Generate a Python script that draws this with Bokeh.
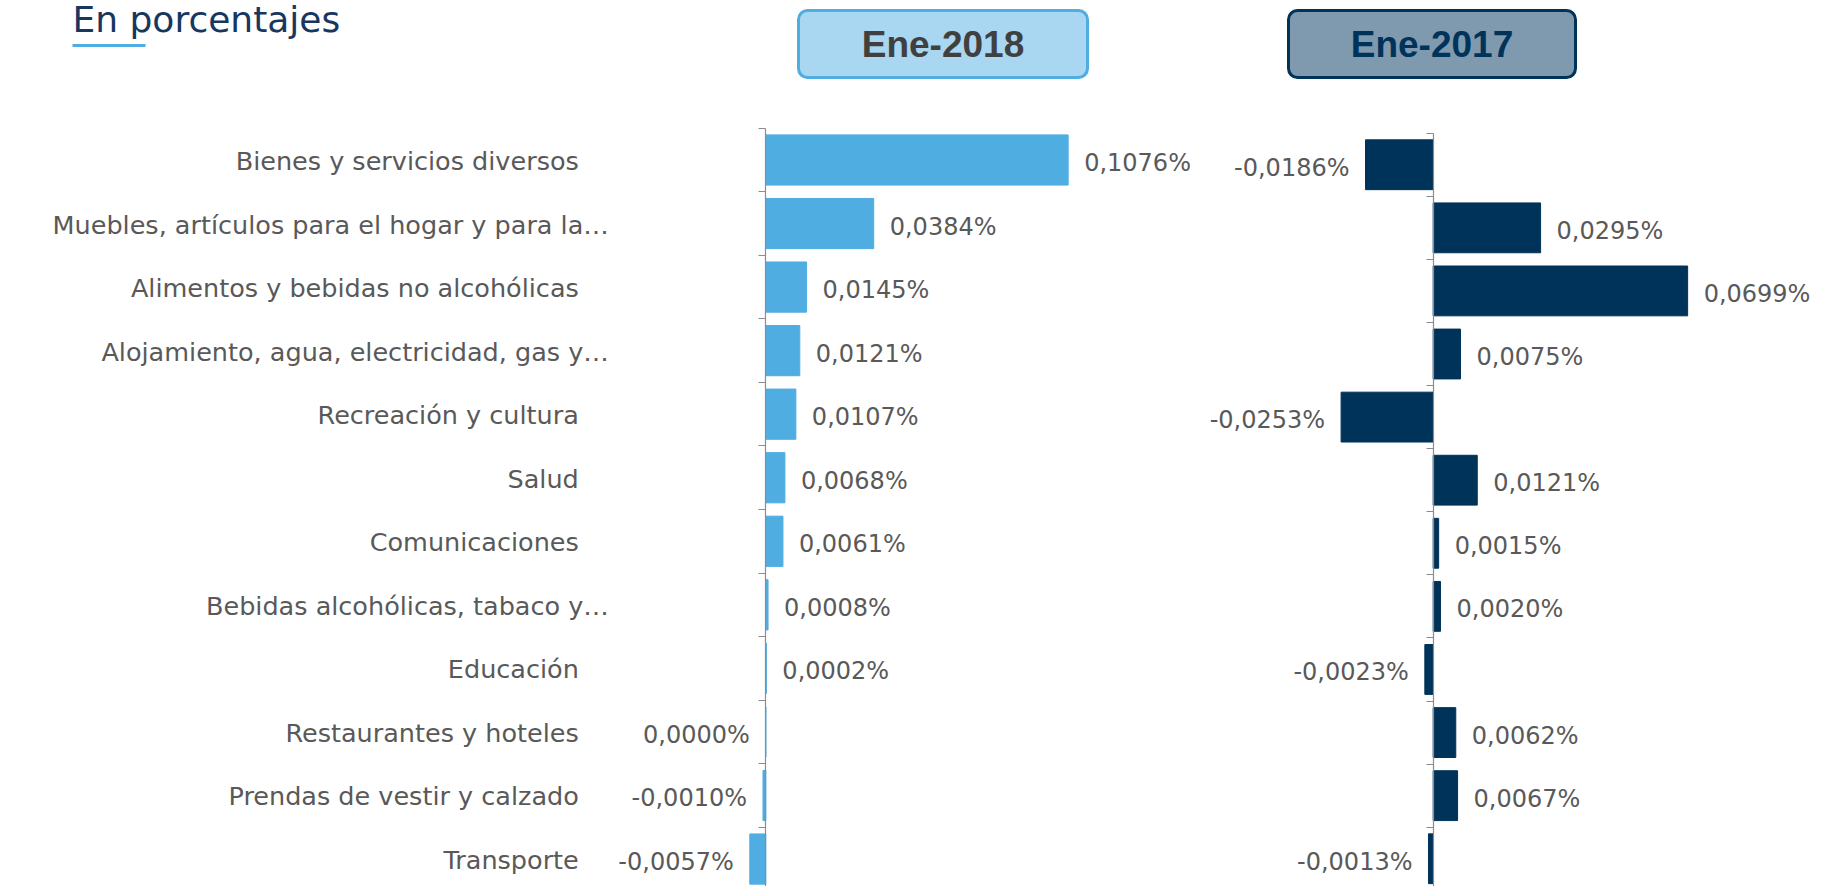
from bokeh.plotting import figure
from bokeh.models import Range1d, LinearAxis, FixedTicker, ColumnDataSource
from bokeh.core.properties import value
from bokeh.embed import file_html
from bokeh.resources import INLINE

# ---------------- data ----------------
chart_title = "En porcentajes"
series_titles = ["Ene-2018", "Ene-2017"]
categories = [
    "Bienes y servicios diversos",
    "Muebles, artículos para el hogar y para la…",
    "Alimentos y bebidas no alcohólicas",
    "Alojamiento, agua, electricidad, gas y…",
    "Recreación y cultura",
    "Salud",
    "Comunicaciones",
    "Bebidas alcohólicas, tabaco y…",
    "Educación",
    "Restaurantes y hoteles",
    "Prendas de vestir y calzado",
    "Transporte",
]
ene_2018 = [0.1076, 0.0384, 0.0145, 0.0121, 0.0107, 0.0068, 0.0061, 0.0008, 0.0002, 0.0000, -0.0010, -0.0057]
ene_2017 = [-0.0186, 0.0295, 0.0699, 0.0075, -0.0253, 0.0121, 0.0015, 0.0020, -0.0023, 0.0062, 0.0067, -0.0013]

# ---------------- style ----------------
LIGHT = "#50ADE1"
NAVY = "#003359"
AXIS = "#8C8C8C"
TXT = "#595959"
FONT = "DejaVu Sans"
W, H = 1824, 886

p = figure(width=W, height=H, output_backend="svg", toolbar_location=None,
           x_range=Range1d(-0.27235, 0.37676), y_range=Range1d(11.9323, -2.0095),
           x_axis_location=None, y_axis_location=None, min_border=0,
           outline_line_color=None, background_fill_color="white",
           border_fill_color="white")
p.xgrid.grid_line_color = None
p.ygrid.grid_line_color = None
p.extra_x_ranges = {"xr": Range1d(-0.39360, 0.10750), "px": Range1d(0, W)}
p.extra_y_ranges = {"yr": Range1d(11.9401, -2.1033), "px": Range1d(H, 0)}

n = len(categories)
centers = [i + 0.5 for i in range(n)]


def fmt(v):
    return ("%.4f" % v).replace(".", ",") + "%"


for vals, col, xr, yr in [(ene_2018, LIGHT, "default", "default"),
                          (ene_2017, NAVY, "xr", "yr")]:
    p.hbar(y=centers, left=0, right=vals, height=0.79, fill_color=col,
           line_color=col, line_width=1, x_range_name=xr, y_range_name=yr)
    ax = LinearAxis(x_range_name=xr, y_range_name=yr, fixed_location=0,
                    ticker=FixedTicker(ticks=list(range(n + 1)), minor_ticks=[]),
                    bounds=(0, n), axis_line_color=AXIS, axis_line_width=1.2,
                    major_tick_line_color=AXIS, major_tick_line_width=1.2,
                    major_tick_out=7, major_tick_in=0,
                    minor_tick_line_color=None,
                    major_label_text_font_size="0px",
                    major_label_overrides={k: "" for k in range(n + 1)})
    p.add_layout(ax, "left")
    src = ColumnDataSource(dict(
        x=vals, y=centers, text=[fmt(v) for v in vals],
        align=["left" if v > 0 else "right" for v in vals],
        off=[16 if v > 0 else -16 for v in vals]))
    p.text(x="x", y="y", text="text", source=src, text_align="align",
           x_offset="off", y_offset=3, text_baseline="middle",
           text_font=value(FONT), text_font_size="24px", text_color=TXT,
           x_range_name=xr, y_range_name=yr)

# category labels
p.text(x=[0] * n, y=centers, text=categories, text_align="right",
       x_offset=[-157 if c.endswith("…") else -187 for c in categories],
       y_offset=1, text_baseline="middle", text_font=value(FONT),
       text_font_size="25.5px", text_color=TXT)

# header
p.text(x=[72], y=[19], text=[chart_title], x_range_name="px", y_range_name="px",
       text_baseline="middle", text_align="left", text_font=value(FONT),
       text_font_size="36px", text_color="#17375E")
p.quad(left=[72], right=[145], top=[43.5], bottom=[46.5], x_range_name="px",
       y_range_name="px", fill_color=LIGHT, line_color=None)
p.quad(left=[798, 1288], right=[1087, 1575], top=[10, 10], bottom=[77, 77],
       fill_color=["#A9D6F1", "#7F99AF"], line_color=[LIGHT, NAVY], line_width=3,
       border_radius=9, x_range_name="px", y_range_name="px")
p.text(x=[942.5, 1431.5], y=[44, 44], text=series_titles, x_range_name="px",
       y_range_name="px", text_align="center", text_baseline="middle",
       text_font=value("Liberation Sans"), text_font_style="bold",
       text_font_size="37px", text_color=["#404040", NAVY])

open("out.html", "w").write(file_html(p, INLINE))
